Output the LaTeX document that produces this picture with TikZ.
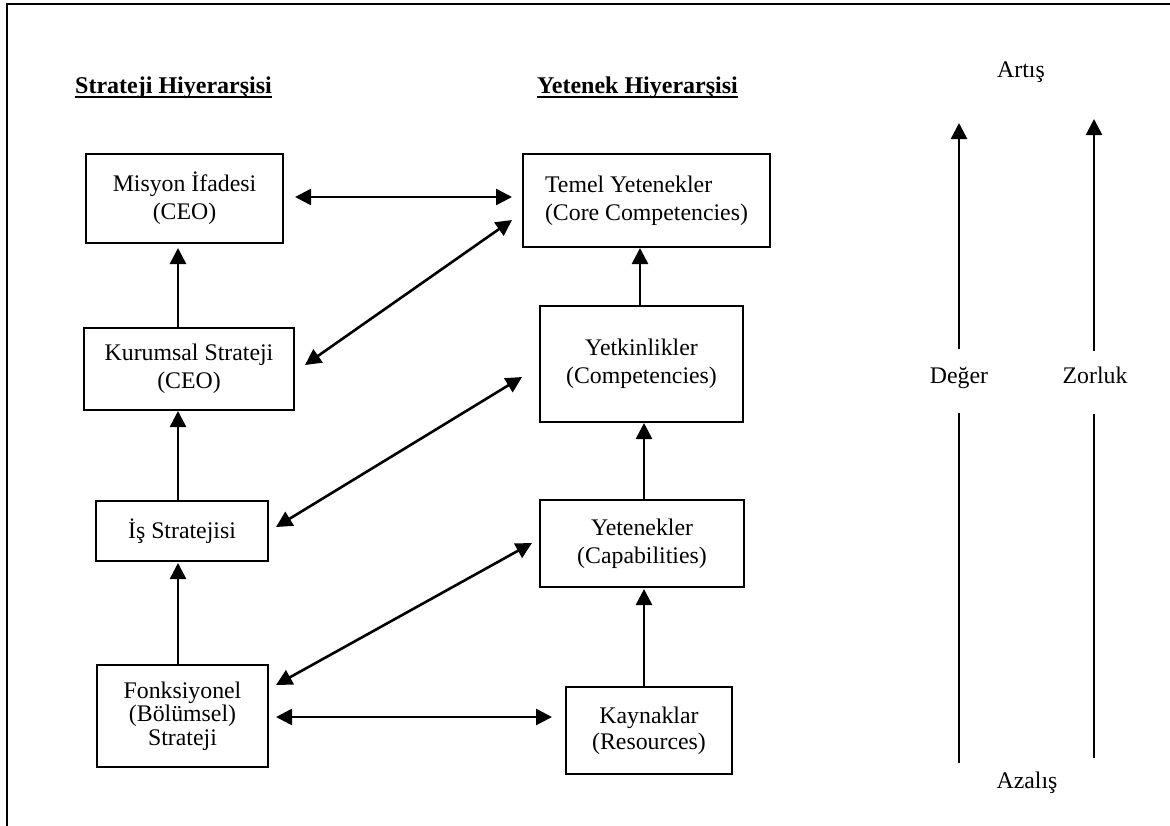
\documentclass[tikz,border=0pt]{standalone}
\usepackage{fontspec}
\setmainfont{Liberation Serif}
\usetikzlibrary{arrows.meta,calc}

\begin{document}
\begin{tikzpicture}[x=0.5pt,y=-0.5pt,
  box/.style={draw, line width=1pt, align=center, inner sep=0pt,
    font=\fontsize{11.9}{14}\selectfont},
  link/.style={line width=1.3pt, -{Triangle[length=8pt,width=8pt]}},
  both/.style={line width=1.3pt,
    {Triangle[length=8pt,width=8pt]}-{Triangle[length=8pt,width=8pt]}},
  plain/.style={line width=1.3pt},
  lbl/.style={inner sep=0pt, anchor=base, font=\fontsize{11.9}{14}\selectfont},
  head/.style={inner sep=0pt, anchor=base, font=\fontsize{12}{14}\selectfont\bfseries}]

\useasboundingbox (0,0) rectangle (1170,825);
\clip (0,0) rectangle (1170,825);

% outer frame
\draw[line width=1pt] (7,840) -- (7,4) -- (1190,4);

% column headings
\node[head] (h1) at (173.5,93) {Strateji Hiyerarşisi};
\node[head] (h2) at (637.5,93) {Yetenek Hiyerarşisi};
\draw[line width=0.8pt] ($(h1.base west)+(0,4)$) -- ($(h1.base east)+(0,4)$);
\draw[line width=0.8pt] ($(h2.base west)+(0,4)$) -- ($(h2.base east)+(0,4)$);

% strategy hierarchy
\node[box, minimum width=98.5pt, minimum height=44.5pt] (mis) at (184.5,198.5)
  {Misyon İfadesi\\(CEO)};
\node[box, minimum width=105pt, minimum height=41pt] (kur) at (189,369)
  {Kurumsal Strateji\\(CEO)};
\node[box, minimum width=86pt, minimum height=30pt] (is) at (182,531)
  {İş Stratejisi};
\node[box, minimum width=85.5pt, minimum height=51pt,
  font=\fontsize{11.9}{11.75}\selectfont] (fon) at (182.5,716)
  {Fonksiyonel\\(Bölümsel)\\Strateji};

% capability hierarchy
\node[box, minimum width=123.5pt, minimum height=46.5pt, align=left] (tem)
  at (646.5,200.5) {Temel Yetenekler\\(Core Competencies)};
\node[box, minimum width=101.5pt, minimum height=58pt] (ytk) at (641.5,364)
  {Yetkinlikler\\(Competencies)};
\node[box, minimum width=102pt, minimum height=43.5pt] (yen) at (642,543.5)
  {Yetenekler\\(Capabilities)};
\node[box, minimum width=83pt, minimum height=43.5pt,
  font=\fontsize{11.9}{13}\selectfont] (kay) at (649,730.5)
  {Kaynaklar\\(Resources)};

% vertical guide positions
\coordinate (lx) at (178,0);
\coordinate (rx) at (640,0);
\coordinate (sx) at (644,0);

% upward links in each column
\draw[link] (kur.north -| lx) -- ($(mis.south -| lx)+(0,4)$);
\draw[link] (is.north -| lx) -- (kur.south -| lx);
\draw[link] (fon.north -| lx) -- ($(is.south -| lx)+(0,1)$);
\draw[link] (ytk.north -| rx) -- (tem.south -| rx);
\draw[link] (yen.north -| sx) -- (ytk.south -| sx);
\draw[link] (kay.north -| sx) -- ($(yen.south -| sx)+(0,1)$);

% two-way links between the hierarchies
\draw[both] ($(mis.east)+(11,-1.5)$) -- ($(tem.west)+(-10,-3.5)$);
\draw[both] ($(kur.east)+(10,-4)$) -- ($(tem.west)+(-10,19.5)$);
\draw[both] ($(is.east)+(7,-4)$) -- ($(ytk.west)+(-17,13)$);
\draw[both] ($(fon.east)+(7,-31)$) -- ($(yen.west)+(-7,-0.5)$);
\draw[both] ($(fon.east)+(7,1)$) -- ($(kay.west)+(-13,-13.5)$);

% value / difficulty scales
\node[lbl] (artis) at (1021,77) {Artış};
\node[lbl] (deger) at (959,383) {Değer};
\node[lbl] (zor) at (1095,383) {Zorluk};
\node[lbl] (azal) at (1027,788) {Azalış};
\coordinate (dTop) at (959,123);
\coordinate (dLow) at (959,763);
\coordinate (zTop) at (1094,119);
\coordinate (zLow) at (1094,758);
\draw[link] ($(deger.base)+(0,-34)$) -- (dTop);
\draw[plain] ($(deger.base)+(0,30)$) -- (dLow);
\draw[link] ($(zor.base -| zTop)+(0,-32)$) -- (zTop);
\draw[plain] ($(zor.base -| zTop)+(0,31)$) -- (zLow);

\end{tikzpicture}
\end{document}
